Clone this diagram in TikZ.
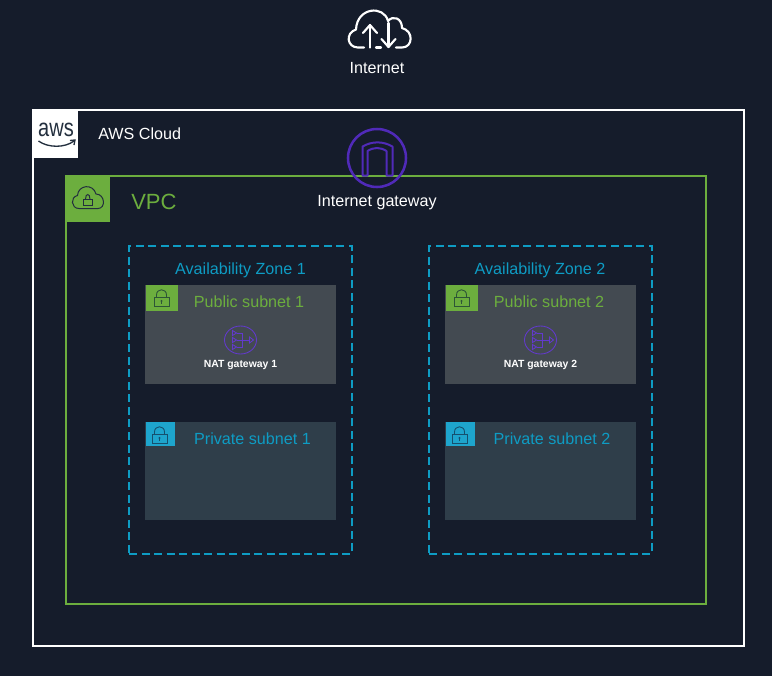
\documentclass[tikz,border=0pt]{standalone}
\usepackage{fontspec}
\setmainfont{Liberation Sans}
\usetikzlibrary{positioning,shapes.geometric}
\definecolor{awsbg}{RGB}{21,28,43}
\definecolor{awsgreen}{RGB}{108,174,62}
\definecolor{awsblue}{RGB}{14,156,196}
\definecolor{awstab}{RGB}{30,165,205}
\definecolor{awspurple}{RGB}{80,42,185}
\definecolor{awsnat}{RGB}{98,58,205}
\definecolor{awspublic}{RGB}{67,74,81}
\definecolor{awsprivate}{RGB}{47,62,74}
\definecolor{awslock}{RGB}{45,85,55}
\definecolor{awskey}{RGB}{22,80,110}
\definecolor{awsink}{RGB}{35,47,62}
\tikzset{
  lbl/.style={font=\fontsize{12.1}{14}\selectfont,inner sep=0pt},
  whitelbl/.style={lbl,text=white},
  greenlbl/.style={lbl,text=awsgreen},
  bluelbl/.style={lbl,text=awsblue},
  natlbl/.style={font=\fontsize{7.8}{9}\selectfont\bfseries,text=white,inner sep=0pt},
  subnetbox/.style={minimum width=143.25pt,minimum height=74pt,inner sep=0pt,outer sep=0pt},
  tabbox/.style={anchor=north west,inner sep=0pt,outer sep=0pt},
  zonebox/.style={draw=awsblue,line width=1.5pt,dash pattern=on 6pt off 3.4pt,minimum width=167.25pt,minimum height=231pt,inner sep=0pt},
}
% lock on a subnet tab
\newcommand{\lockicon}[3]{
  \begin{scope}[shift={(#1,#2)},draw=#3,line width=0.65pt]
    \draw (-7.5,-1) rectangle (7.5,8);
    \draw (-5,-1) -- (-5,-3) .. controls (-5,-10) and (5,-10) .. (5,-3) -- (5,-1);
    \fill[#3] (0,3) circle (1.2);
    \draw (0,3) -- (0,5.5);
  \end{scope}
}
% nat gateway glyph
\newcommand{\naticon}[2]{
  \begin{scope}[shift={(#1,#2)},draw=awsnat,line width=0.65pt]
    \draw (0,0) ellipse (16 and 14);
    \draw (-8,-9.5) -- (-4,-7) -- (-8,-4.5) -- cycle;
    \draw (-8,-2.5) -- (-4,0) -- (-8,2.5) -- cycle;
    \draw (-8,4.5) -- (-4,7) -- (-8,9.5) -- cycle;
    \draw (-4,-7) -- (2,-7) -- (2,7) -- (-4,7);
    \draw (-4,0) -- (9,0);
    \draw (9,-3) -- (13,0) -- (9,3) -- cycle;
  \end{scope}
}
\begin{document}
\begin{tikzpicture}[x=0.75pt,y=-0.75pt]
  \fill[awsbg] (0,0) rectangle (772,676);
  \useasboundingbox (0,0) rectangle (772,676);

  % internet
  \begin{scope}[draw=white,line width=1.6pt,line cap=round,line join=round]
    \draw (364,47.5) -- (358,47.5) .. controls (347,47.5) and (345,33) .. (356,29.5)
      .. controls (357,7) and (384,5) .. (388,21)
      .. controls (393,15) and (402,18) .. (402,28)
      .. controls (414,31) and (413,47.5) .. (402,47.5) -- (396,47.5);
    \draw (376,47.5) -- (381,47.5);
    \draw (370,47.5) -- (370,25);
    \draw (363,33) -- (370,25) -- (377,33);
    \draw (388.5,23) -- (388.5,47);
    \draw (381.5,39) -- (388.5,47) -- (395.5,39);
  \end{scope}
  \node[whitelbl] (internet) at (377,68) {Internet};

  % aws cloud
  \draw[white,line width=1.5pt] (33,110) rectangle (744,646);
  \node[fill=white,tabbox,minimum width=34pt,minimum height=36pt] (awslogo) at (32.5,110) {};
  \node[text=awsink,font=\fontsize{15}{15}\selectfont,inner sep=0pt,yscale=1.25] (awstext) at (56,129.5) {aws};
  \draw[awsink,line width=1pt] (38.5,141) .. controls (48,148) and (65,148) .. (74,141);
  \draw[awsink,line width=1pt] (70,140.5) -- (75,140) -- (74,145);
  \node[whitelbl,anchor=west] (cloudlbl) at (98,134) {AWS Cloud};

  % vpc
  \draw[awsgreen,line width=1.5pt] (65.5,176) rectangle (706,604);
  \node[fill=awsgreen,tabbox,minimum width=33.75pt,minimum height=34.5pt] (vpctab) at (65,175.5) {};
  \draw[awsink,line width=0.75pt] (79,208.5) .. controls (71,208.5) and (70,197) .. (77.5,195.5)
    .. controls (78,185) and (93,183) .. (96,194)
    .. controls (105,194) and (106,208.5) .. (98,208.5) -- cycle;
  \draw[awsink,line width=0.75pt] (83.5,199) rectangle (92,205);
  \draw[awsink,line width=0.75pt] (85.5,199) .. controls (85.5,193) and (90,193) .. (90,199);
  \node[lbl,text=awsgreen,font=\fontsize{16.5}{18}\selectfont,anchor=west] (vpclbl) at (131,201.5) {VPC};

  % internet gateway
  \node[draw=awspurple,circle,line width=1.9pt,minimum size=43.5pt,inner sep=0pt] (igw) at (377,158) {};
  \draw[awspurple,line width=1.5pt,line join=round] (362.5,175.5) -- (362.5,146.5)
    .. controls (372,141) and (383,141) .. (392.5,146.5) -- (392.5,175.5) -- (386.5,175.5) -- (386.5,151)
    .. controls (380,147) and (374,147) .. (367.5,151) -- (367.5,175.5) -- cycle;
  \node[whitelbl] (igwlbl) at (377,202.5) {Internet gateway};

  % zone 1
  \node[zonebox] (az1) at (240.5,400) {};
  \node[bluelbl] (az1lbl) at (240.5,270) {Availability Zone 1};
  \node[subnetbox,fill=awspublic] (pub1) at (240.5,334.5) {};
  \node[fill=awsgreen,tabbox,minimum width=24pt,minimum height=19.5pt] (pub1tab) at ([xshift=0.75pt]pub1.north west) {};
  \lockicon{161.5}{298}{awslock}
  \node[greenlbl] (pub1lbl) at (249,302) {Public subnet 1};
  \naticon{240.5}{340}
  \node[natlbl] (nat1) at (240.5,365) {NAT gateway 1};
  \node[subnetbox,fill=awsprivate] (priv1) at (240.5,471) {};
  \node[fill=awstab,tabbox,minimum width=22pt,minimum height=18pt] (priv1tab) at ([xshift=0.75pt]priv1.north west) {};
  \lockicon{159.5}{435}{awskey}
  \node[bluelbl] (priv1lbl) at (252.5,439) {Private subnet 1};

  % zone 2
  \node[zonebox] (az2) at (540.5,400) {};
  \node[bluelbl] (az2lbl) at (540,270) {Availability Zone 2};
  \node[subnetbox,fill=awspublic] (pub2) at (540.5,334.5) {};
  \node[fill=awsgreen,tabbox,minimum width=24pt,minimum height=19.5pt] (pub2tab) at ([xshift=0.75pt]pub2.north west) {};
  \lockicon{461.5}{298}{awslock}
  \node[greenlbl] (pub2lbl) at (549,302) {Public subnet 2};
  \naticon{540.5}{340}
  \node[natlbl] (nat2) at (540.5,365) {NAT gateway 2};
  \node[subnetbox,fill=awsprivate] (priv2) at (540.5,471) {};
  \node[fill=awstab,tabbox,minimum width=22pt,minimum height=18pt] (priv2tab) at ([xshift=0.75pt]priv2.north west) {};
  \lockicon{459.5}{435}{awskey}
  \node[bluelbl] (priv2lbl) at (552,439) {Private subnet 2};
\end{tikzpicture}
\end{document}
